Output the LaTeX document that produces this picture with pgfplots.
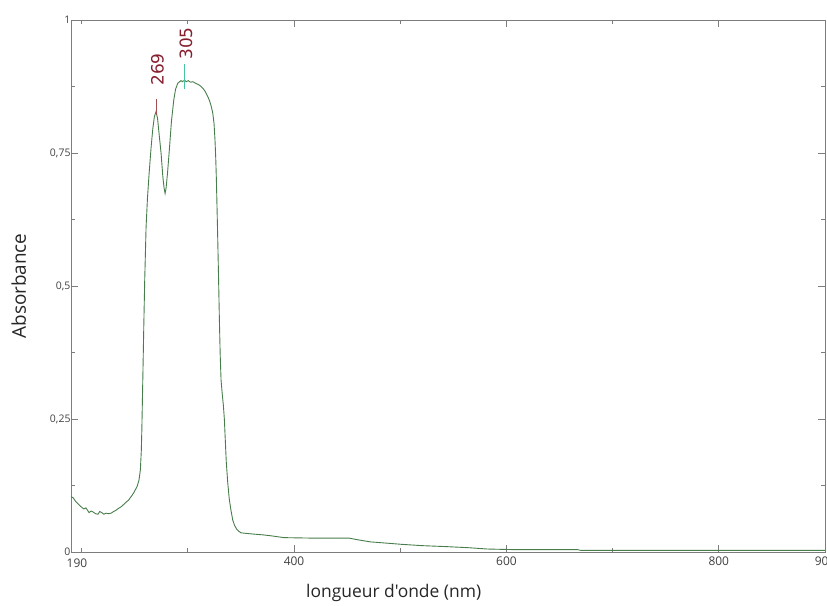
\documentclass[border=0pt]{standalone}
\usepackage{pgfplots}
\pgfplotsset{compat=1.18}
\usepackage{fontspec}
\setmainfont{Open Sans}[Ligatures=TeXOff]
\newfontfamily\dejavu{DejaVu Sans}
\definecolor{curve}{RGB}{70,125,75}
\definecolor{axgray}{RGB}{125,125,125}
\definecolor{peakred}{RGB}{135,30,45}
\definecolor{mark305}{RGB}{70,195,160}
\definecolor{mark269}{RGB}{160,80,80}
\begin{document}
\begin{tikzpicture}[x=1bp,y=1bp]
\useasboundingbox (-71,-54) rectangle (756,552);
\begin{axis}[
  at={(0,0)}, anchor=south west,
  width=754bp, height=532bp, scale only axis,
  xmin=190, xmax=900, ymin=0, ymax=1,
  axis line style={axgray, line width=0.8pt},
  tick style={axgray, line width=0.7pt},
  tick align=inside,
  major tick length=7bp, minor tick length=4bp,
  xtick={400,600,800,900},
  xticklabels={400,600,800,900},
  extra x ticks={190},
  extra x tick labels={190},
  extra x tick style={major tick length=0pt, xticklabel style={xshift=6bp, yshift=-2bp}},
  minor xtick={200,300,500,700},
  ytick={0,0.25,0.5,0.75,1},
  yticklabels={0,{0,25},{0,5},{0,75},1},
  minor ytick={0.125,0.375,0.625,0.875},
  xticklabel style={font=\fontsize{12}{12}\selectfont, text=black!75, yshift=-1bp},
  yticklabel style={font=\fontsize{10.5}{10.5}\selectfont, text=black!75, xshift=3bp},
  /pgf/number format/assume math mode=true,
  xlabel={longueur d'onde (nm)},
  ylabel={Absorbance},
  xlabel style={font=\fontsize{17.5}{17.5}\selectfont, text=black!85, at={(rel axis cs:0.428,0)}, anchor=base, yshift=-45bp},
  ylabel style={font=\fontsize{19}{19}\selectfont, text=black!85, at={(rel axis cs:0,0.5)}, anchor=base, yshift=45bp},
  clip=false,
]
\addplot[curve, line width=0.9pt] coordinates {
(190,0.104) (192,0.102) (194,0.096) (197,0.090) (199.5,0.085) (202,0.081) (204,0.083) (207,0.074) (209,0.077) (211,0.075) (213,0.072) (215.5,0.071) (217,0.076) (219,0.074) (221,0.071) (223,0.073) (225,0.072) (227.8,0.073) (230,0.076) (232,0.078) (234,0.081) (237.2,0.085) (240,0.090) (242,0.094) (244,0.097) (246.6,0.104) (249,0.111) (252.2,0.123) (254,0.135) (255.3,0.154) (256.2,0.190) (256.7,0.229) (257.6,0.323) (258.5,0.420) (259.4,0.510) (260.7,0.611) (262,0.665) (263.5,0.710) (265.4,0.760) (267,0.795) (268.5,0.818) (270.1,0.828) (271.5,0.815) (273,0.785) (274.8,0.750) (276.5,0.705) (277.6,0.685) (278.6,0.674) (279.6,0.685) (281,0.715) (282.6,0.756) (284.6,0.810) (286.8,0.850) (288.5,0.870) (290.5,0.881) (293.5,0.886) (295,0.884) (296.8,0.887) (298.5,0.884) (300.5,0.886) (302.5,0.883) (304.7,0.884) (306.5,0.882) (308.5,0.880) (310.5,0.878) (312.5,0.875) (314.5,0.871) (316.5,0.865) (318.8,0.856) (320.5,0.848) (322,0.838) (323.5,0.825) (324.7,0.805) (325.6,0.774) (326.3,0.740) (326.9,0.700) (327.6,0.640) (328.2,0.586) (329,0.510) (329.8,0.430) (330.5,0.370) (331.3,0.323) (332.5,0.295) (333.5,0.275) (334.4,0.250) (335.3,0.210) (336.2,0.170) (337.6,0.130) (339,0.100) (340.5,0.080) (342.3,0.060) (344,0.050) (346,0.043) (348,0.039) (350.1,0.036) (355,0.035) (360,0.034) (371.8,0.032) (380,0.030) (390.6,0.027) (420,0.026) (452,0.026) (460,0.023) (472,0.019) (485,0.017) (500.7,0.0145) (520,0.012) (544.7,0.010) (565,0.008) (582,0.0056) (595,0.005) (607,0.0045) (667,0.0045) (670,0.003) (900,0.003)
};
\addplot[mark269, line width=0.8pt] coordinates {(270.1,0.821) (270.1,0.852)};
\addplot[mark305, line width=0.7pt] coordinates {(296.8,0.870) (296.8,0.917)};
\addplot[mark305, line width=0.5pt] coordinates {(295.2,0.887) (298.4,0.887)};
\node[rotate=90, anchor=west, text=peakred, font=\dejavu\fontsize{17}{17}\selectfont, inner sep=0pt] at (axis cs:271.5,0.876) {269};
\node[rotate=90, anchor=west, text=peakred, font=\dejavu\fontsize{17}{17}\selectfont, inner sep=0pt] at (axis cs:298.3,0.925) {305};
\end{axis}
\end{tikzpicture}
\end{document}
